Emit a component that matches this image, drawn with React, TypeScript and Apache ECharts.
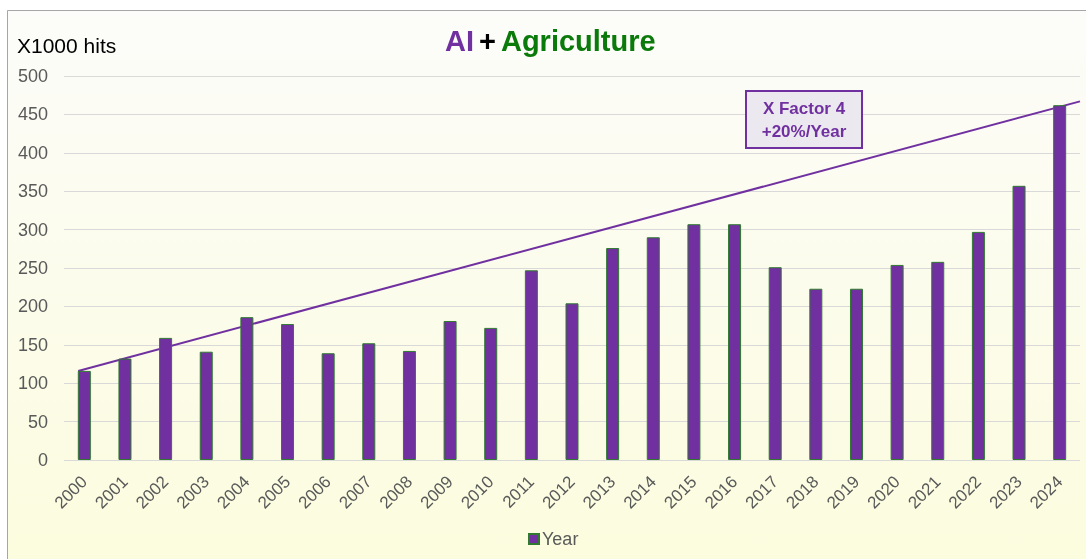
import React, { useEffect, useRef } from "react";
import * as echarts from "echarts";

const years = ["2000","2001","2002","2003","2004","2005","2006","2007","2008","2009","2010","2011","2012","2013","2014","2015","2016","2017","2018","2019","2020","2021","2022","2023","2024"];
const hits = [116,132,159,141,186,177,139,152,142,181,172,247,204,276,290,307,307,251,223,223,254,258,297,357,462];
const trendStart = [-0.15, 116];
const trendEnd = [24.5, 467];
const yTicks = { min: 0, max: 500, interval: 50 };

export default function App() {
  const ref = useRef<HTMLDivElement>(null);
  useEffect(() => {
    if (!ref.current) return;
    const chart = echarts.init(ref.current, null, { renderer: "svg" });
    const font = "'Liberation Sans', Arial, sans-serif";
    chart.setOption({
      animation: false,
      textStyle: { fontFamily: font },
      graphic: [
        {
          type: "rect",
          z: -10,
          shape: { x: 7.5, y: 10.5, width: 1100, height: 600 },
          style: {
            fill: new echarts.graphic.LinearGradient(0, 0, 0, 1, [
              { offset: 0, color: "#fcfcfa" },
              { offset: 1, color: "#fcfcdc" },
            ]),
            stroke: "#a6a6a6",
            lineWidth: 1,
          },
          silent: true,
        },
        {
          type: "text",
          left: 17,
          top: 35,
          style: { text: "X1000 hits", fontSize: 21, fill: "#000", fontFamily: font },
        },
        {
          type: "rect",
          z: 100,
          shape: { x: 746, y: 91, width: 116, height: 57 },
          style: { fill: "#ece8ef", stroke: "#7030a0", lineWidth: 2 },
        },
        {
          type: "text",
          z: 101,
          x: 804,
          y: 108,
          style: {
            text: "X Factor 4",
            fontSize: 17,
            fontWeight: "bold",
            fill: "#7030a0",
            align: "center",
            verticalAlign: "middle",
            fontFamily: font,
          },
        },
        {
          type: "text",
          z: 101,
          x: 804,
          y: 131,
          style: {
            text: "+20%/Year",
            fontSize: 17,
            fontWeight: "bold",
            fill: "#7030a0",
            align: "center",
            verticalAlign: "middle",
            fontFamily: font,
          },
        },
      ],
      title: {
        text: "{a|AI} {b|+} {c|Agriculture}",
        left: 440,
        top: 21,
        textStyle: {
          rich: {
            a: { fontSize: 29, fontWeight: "bold", color: "#7030a0", fontFamily: font },
            b: { fontSize: 29, fontWeight: "bold", color: "#000", fontFamily: font },
            c: { fontSize: 29, fontWeight: "bold", color: "#0a7a0a", fontFamily: font },
          },
        },
      },
      legend: {
        data: ["Year"],
        bottom: 6,
        left: 523,
        icon: "rect",
        itemWidth: 10,
        itemHeight: 10,
        itemGap: 5,
        textStyle: { fontSize: 18, color: "#595959", fontFamily: font, padding: [0, 0, 0, -2] },
      },
      grid: { left: 64, right: 6, top: 76, bottom: 99, containLabel: false },
      xAxis: [
        {
          type: "category",
          data: years,
          axisLine: { show: false },
          axisTick: { show: false },
          axisLabel: { rotate: 45, fontSize: 17, color: "#595959", margin: 19, interval: 0, fontFamily: font },
        },
        {
          type: "value",
          min: -0.5,
          max: 24.5,
          show: false,
        },
      ],
      yAxis: {
        type: "value",
        min: yTicks.min,
        max: yTicks.max,
        interval: yTicks.interval,
        axisLine: { show: false },
        axisTick: { show: false },
        axisLabel: { fontSize: 18, color: "#595959", margin: 16, fontFamily: font },
        splitLine: { lineStyle: { color: "#d9d9d9", width: 1 } },
      },
      series: [
        {
          name: "Year",
          type: "bar",
          data: hits,
          barWidth: 13,
          itemStyle: { color: "#7030a0", borderColor: "#2f7a2f", borderWidth: 1 },
        },
        {
          name: "Trend",
          type: "line",
          xAxisIndex: 1,
          data: [trendStart, trendEnd],
          symbol: "none",
          lineStyle: { color: "#7030a0", width: 2 },
          z: 1,
        },
      ],
    });
    return () => chart.dispose();
  }, []);
  return (
    <div
      ref={ref}
      style={{ position: "fixed", left: 0, top: 0, width: 1086, height: 559 }}
    />
  );
}
